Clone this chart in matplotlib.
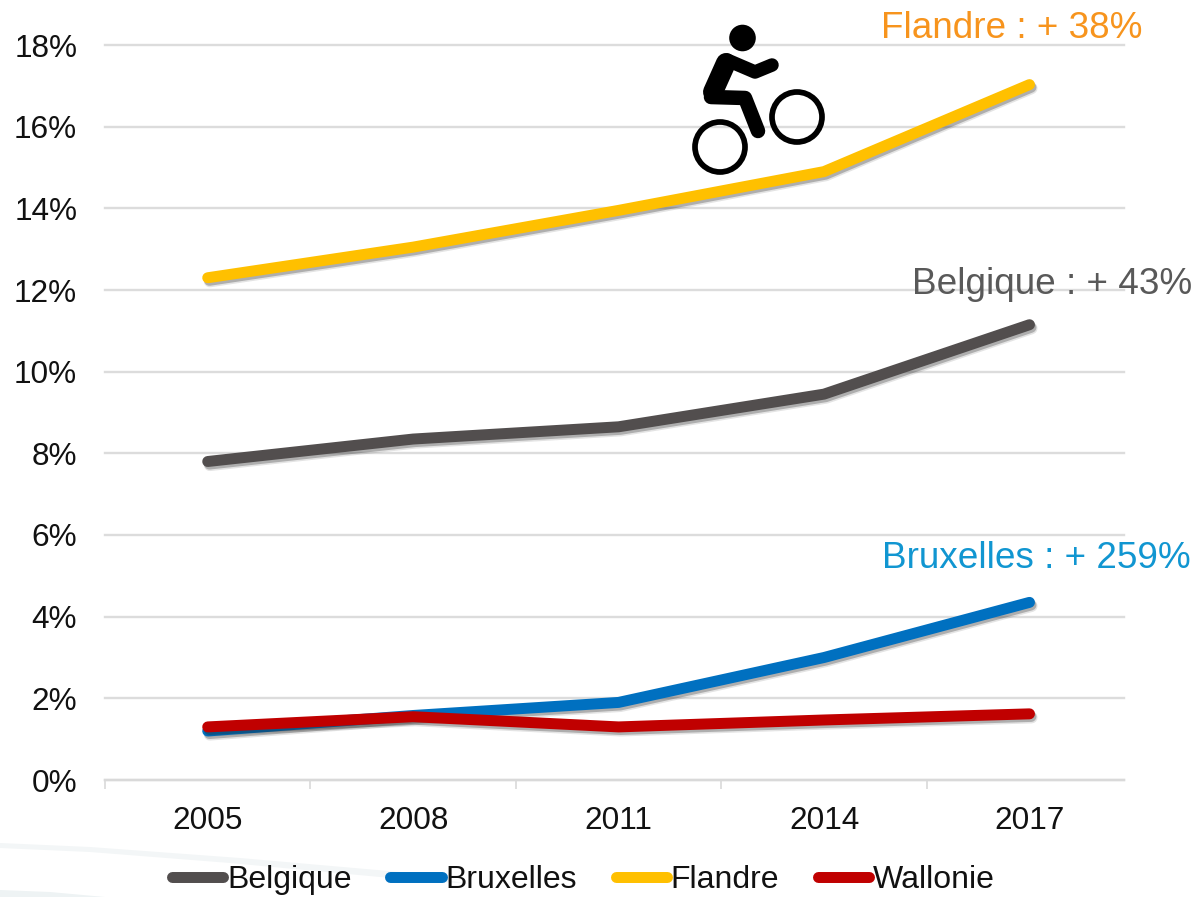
import matplotlib
matplotlib.use("Agg")
import matplotlib.pyplot as plt
import matplotlib.patheffects as pe
from matplotlib.patches import Circle, Polygon

plt.rcParams['font.family'] = ['Liberation Sans', 'DejaVu Sans']

years = ['2005', '2008', '2011', '2014', '2017']
belgique = [7.8, 8.35, 8.65, 9.45, 11.15]
bruxelles = [1.2, 1.58, 1.9, 3.0, 4.35]
flandre = [12.3, 13.05, 13.95, 14.9, 17.03]
wallonie = [1.3, 1.55, 1.3, 1.47, 1.62]
yticks = [0, 2, 4, 6, 8, 10, 12, 14, 16, 18]
notes = ['Flandre : + 38%', 'Belgique : + 43%', 'Bruxelles : + 259%']

W, H = 1199, 897
fig = plt.figure(figsize=(W / 100, H / 100), dpi=100, facecolor='white')

# faint background swoosh: thin pale streaks at the bottom left
bg = fig.add_axes([0, 0, 1, 1], zorder=0)
bg.set_xlim(0, W); bg.set_ylim(H, 0); bg.axis('off')
bg.add_patch(Polygon([(0, 843), (90, 847), (240, 858), (400, 872), (470, 884),
                      (380, 877), (230, 863), (90, 852), (0, 848)],
                     facecolor='#f3f6f7', edgecolor='none'))
bg.add_patch(Polygon([(0, 890), (50, 892), (105, 897), (0, 897)],
                     facecolor='#eef3f4', edgecolor='none'))

ax = fig.add_axes([105 / W, 1 - 780 / H, (1124 - 105) / W, (780 - 45) / H], zorder=1)
ax.patch.set_alpha(0)
x = range(len(years))
ax.set_xlim(-0.5, 4.46)
ax.set_ylim(0, 18)
ax.set_yticks(yticks)
ax.set_yticklabels([f'{v}%' for v in yticks])
ax.set_xticks(list(x))
ax.set_xticklabels(years)
ax.set_xticks([-0.5, 0.5, 1.5, 2.5, 3.5], minor=True)
ax.tick_params(axis='x', which='major', length=0, pad=18.5, labelsize=22.7, colors='#111111')
ax.tick_params(axis='x', which='minor', length=6.5, width=1.2, color='#d9d9d9')
ax.tick_params(axis='y', length=0, pad=20, labelsize=22.7, colors='#111111')
ax.grid(axis='y', color='#dcdcdc', lw=1.7, zorder=0, clip_on=False)
ax.set_axisbelow(True)
for s in ['top', 'right', 'left']:
    ax.spines[s].set_visible(False)
ax.spines['bottom'].set_color('#d9d9d9')
ax.spines['bottom'].set_linewidth(1.7)

shadow = [pe.SimpleLineShadow(offset=(1.5, -2.6), alpha=0.12, shadow_color='#222222', linewidth=8.6),
          pe.SimpleLineShadow(offset=(1.2, -2.0), alpha=0.28, shadow_color='#222222', linewidth=7.6),
          pe.Normal()]
series = [('Belgique', belgique, '#524e4e'), ('Bruxelles', bruxelles, '#0070c0'),
          ('Flandre', flandre, '#ffc000'), ('Wallonie', wallonie, '#c00000')]
for name, vals, col in series:
    ax.plot(list(x), vals, color=col, lw=7.9, label=name, solid_capstyle='round',
            solid_joinstyle='round', path_effects=shadow, clip_on=False, zorder=3)

leg = ax.legend(loc='lower left', bbox_to_anchor=(67 / 1019, -115 / 735), ncol=4,
                frameon=False, fontsize=23, handlelength=1.6, handletextpad=0.12,
                columnspacing=1.22, borderpad=0, borderaxespad=0, labelcolor='#111111')
for h in leg.get_lines():
    h.set_path_effects([])

# annotations and icon in a pixel-based overlay
ov = fig.add_axes([0, 0, 1, 1], zorder=2)
ov.set_xlim(0, W); ov.set_ylim(H, 0); ov.axis('off')
ov.text(1012, 29, notes[0], color='#f7941d', fontsize=26.6, ha='center', va='center')
ov.text(1052, 284, notes[1], color='#595959', fontsize=26.6, ha='center', va='center')
ov.text(1036, 559, notes[2], color='#1196d1', fontsize=26.6, ha='center', va='center')

pt = 0.72
ov.add_patch(Circle((742.5, 38), 13.3, fc='black', ec='none'))
ov.add_patch(Circle((720, 147), 25, fc='none', ec='black', lw=5.7 * pt))
ov.add_patch(Circle((797, 117), 25, fc='none', ec='black', lw=5.7 * pt))
ov.plot([726, 713], [63, 92], color='black', lw=20 * pt, solid_capstyle='round')
ov.plot([711, 745, 758], [97, 98, 131], color='black', lw=14.5 * pt,
        solid_capstyle='round', solid_joinstyle='round')
ov.plot([727, 755, 772], [60, 72, 65], color='black', lw=13.5 * pt,
        solid_capstyle='round', solid_joinstyle='round')

fig.savefig('out.png', dpi=100)
